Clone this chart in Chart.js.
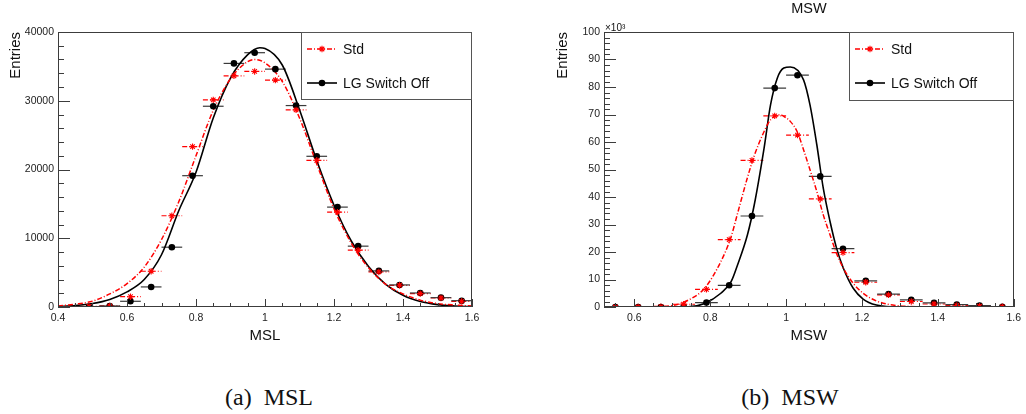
<!DOCTYPE html>
<html>
<head>
<meta charset="utf-8">
<script src="https://cdn.jsdelivr.net/npm/chart.js@4.4.1/dist/chart.umd.min.js"></script>
<style>
  html, body { margin: 0; padding: 0; background: #fff; }
  body { width: 1026px; height: 414px; position: relative; overflow: hidden; }
  .pane { position: absolute; top: 0; width: 513px; height: 360px; }
  .caption {
    position: absolute; top: 384px; line-height: 26px;
    font-family: "Liberation Serif", "DejaVu Serif", serif; font-size: 24px; color: #111;
    transform: translateX(-50%); white-space: pre;
  }
</style>
</head>
<body>
<div class="pane" style="left:0"><canvas id="msl"></canvas></div>
<div class="pane" style="left:513px"><canvas id="msw"></canvas></div>
<div class="caption" style="left:269px">(a)  MSL</div>
<div class="caption" style="left:790px">(b)  MSW</div>

<script>
// MSL histogram (bin width 0.06)
const mslBins = [0.49, 0.55, 0.61, 0.67, 0.73, 0.79, 0.85, 0.91, 0.97, 1.03, 1.09, 1.15, 1.21, 1.27, 1.33, 1.39, 1.45, 1.51, 1.57];
const mslStd = [80, 150, 1500, 5200, 13270, 23330, 30130, 33630, 34260, 33000, 28680, 21340, 13800, 8260, 5100, 3160, 1940, 1310, 830];
const mslOff = [30, 150, 830, 2920, 8700, 19100, 29200, 35430, 36990, 34600, 29300, 21920, 14530, 8850, 5250, 3210, 2040, 1360, 920];

// fitted curves for MSL
const mslStdFitX = [0.4, 0.45, 0.5, 0.55, 0.6, 0.65, 0.7, 0.75, 0.8, 0.85, 0.9, 0.95, 0.97, 1.0, 1.05, 1.1, 1.15, 1.2, 1.25, 1.3, 1.35, 1.4, 1.45, 1.5, 1.55, 1.6];
const mslStdFit = [150, 400, 850, 1900, 3400, 5800, 9800, 15300, 22000, 28600, 33200, 35700, 36000, 35500, 32800, 27500, 20800, 14300, 9300, 5700, 3300, 1900, 1000, 500, 280, 150];
const mslOffFitX = [0.4, 0.45, 0.5, 0.55, 0.6, 0.65, 0.7, 0.75, 0.8, 0.85, 0.9, 0.95, 0.985, 1.0, 1.05, 1.1, 1.15, 1.2, 1.25, 1.3, 1.35, 1.4, 1.45, 1.5, 1.55, 1.6];
const mslOffFit = [50, 200, 500, 1100, 2200, 4000, 7600, 14000, 19600, 27500, 33300, 36700, 37700, 37600, 35200, 28700, 21300, 14800, 9600, 5900, 3300, 1700, 800, 350, 150, 50];

// MSW histogram, in units of 10^3 entries
const mswBins = [0.55, 0.61, 0.67, 0.73, 0.79, 0.85, 0.91, 0.97, 1.03, 1.09, 1.15, 1.21, 1.27, 1.33, 1.39, 1.45, 1.51, 1.57];
const mswStd = [0, 0, 0.1, 1, 6.4, 24.5, 53.3, 69.5, 62.5, 39.3, 19.8, 9, 4.4, 2, 1.1, 0.6, 0.3, 0.1];
const mswOff = [0, 0, 0, 0.1, 1.6, 7.9, 33.1, 79.6, 84.3, 47.5, 21.2, 9.5, 4.7, 2.6, 1.5, 0.85, 0.5, 0.1];

// fitted curves for MSW
const mswStdFitX = [0.52, 0.611, 0.65, 0.698, 0.742, 0.785, 0.828, 0.855, 0.872, 0.898, 0.916, 0.942, 0.959, 0.985, 0.994, 1.011, 1.029, 1.046, 1.063, 1.081, 1.098, 1.116, 1.133, 1.151, 1.177, 1.203, 1.238, 1.281, 1.325, 1.4, 1.6];
const mswStdFit = [0, 0, 0.15, 0.5, 2.5, 6.8, 16.5, 25.5, 34, 47, 55, 63.8, 68.1, 69.9, 69.3, 67.5, 63.8, 57.2, 49.9, 42, 33.5, 26.2, 19.5, 14.1, 8.6, 5, 2.2, 0.7, 0.2, 0.05, 0];
const mswOffFitX = [0.52, 0.65, 0.7, 0.742, 0.785, 0.828, 0.855, 0.872, 0.898, 0.916, 0.942, 0.959, 0.977, 0.994, 1.011, 1.046, 1.063, 1.081, 1.098, 1.116, 1.133, 1.151, 1.177, 1.203, 1.238, 1.28, 1.35, 1.6];
const mswOffFit = [0, 0, 0.02, 0.1, 1.3, 5, 9.2, 15.3, 26.2, 37.1, 57.8, 73.5, 83.3, 86.9, 87.3, 82.6, 73.5, 59, 43.2, 31, 21.4, 14.1, 6.8, 2.9, 0.7, 0.1, 0, 0];

// axis labels
const mslXTicks = [0.4, 0.6, 0.8, 1, 1.2, 1.4, 1.6];
const mslYTicks = [0, 10000, 20000, 30000, 40000];
const mswXTicks = [0.6, 0.8, 1, 1.2, 1.4, 1.6];
const mswYTicks = [0, 10, 20, 30, 40, 50, 60, 70, 80, 90, 100];

const seriesNames = ['Std', 'LG Switch Off'];
const RED = '#ff0000';
const SANS = '"Liberation Sans", Arial, sans-serif';
const DASHDOT = [5, 2, 1, 2];

const pts = (xs, ys) => xs.map((x, i) => ({ x, y: ys[i] }));

function makeDatasets(bins, std, off, sx, sf, ox, of) {
  return [
    { label: seriesNames[0], data: pts(bins, std), pointStyle: 'star', pointRadius: 3.2, pointBorderWidth: 1.1,
      borderColor: RED, backgroundColor: RED, showLine: false, halfWidth: 0.03, barColor: RED, barDash: DASHDOT },
    { label: seriesNames[1], data: pts(bins, off), pointStyle: 'circle', pointRadius: 3.3, pointBorderWidth: 0,
      borderColor: '#000', backgroundColor: '#000', showLine: false, halfWidth: 0.03, barColor: '#3a3a3a' },
    { data: pts(sx, sf), showLine: true, pointRadius: 0, borderColor: RED, borderWidth: 1.5,
      borderDash: DASHDOT, cubicInterpolationMode: 'monotone' },
    { data: pts(ox, of), showLine: true, pointRadius: 0, borderColor: '#000', borderWidth: 1.6,
      cubicInterpolationMode: 'monotone' }
  ];
}

// ROOT-like frame: inner ticks, axis titles, legend box, horizontal error bars
const rootStyle = {
  id: 'rootStyle',
  beforeDatasetsDraw(chart) {
    const { ctx, chartArea: a, scales: { x, y } } = chart;
    ctx.save();
    ctx.beginPath();
    ctx.rect(a.left, a.top, a.width, a.height);
    ctx.clip();
    ctx.lineWidth = 1.2;
    chart.data.datasets.forEach(ds => {
      if (!ds.halfWidth) return;
      ctx.strokeStyle = ds.barColor;
      ctx.setLineDash(ds.barDash || []);
      ds.data.forEach(p => {
        const py = y.getPixelForValue(p.y);
        ctx.beginPath();
        ctx.moveTo(x.getPixelForValue(p.x - ds.halfWidth), py);
        ctx.lineTo(x.getPixelForValue(p.x + ds.halfWidth), py);
        ctx.stroke();
      });
    });
    ctx.restore();
  },
  afterDraw(chart, args, o) {
    const { ctx, chartArea: a, scales: { x, y } } = chart;
    ctx.save();
    ctx.strokeStyle = '#3c3c3c';
    ctx.lineWidth = 1;
    ctx.strokeRect(Math.round(a.left) + 0.5, Math.round(a.top) + 0.5,
                   Math.round(a.width) - 1, Math.round(a.height) - 1);

    // ticks drawn inward from the left and bottom axes
    const tick = (scale, step, len, vertical) => {
      const n0 = Math.ceil(scale.min / step - 1e-6), n1 = Math.floor(scale.max / step + 1e-6);
      for (let n = n0; n <= n1; n++) {
        const p = Math.round(scale.getPixelForValue(n * step)) + 0.5;
        ctx.beginPath();
        if (vertical) { ctx.moveTo(a.left, p); ctx.lineTo(a.left + len, p); }
        else { ctx.moveTo(p, a.bottom); ctx.lineTo(p, a.bottom - len); }
        ctx.stroke();
      }
    };
    tick(y, o.yMinor, 6, true);
    tick(y, o.yMajor, 12, true);
    tick(x, 0.05, 4, false);
    tick(x, 0.2, 8, false);

    ctx.fillStyle = '#111';
    ctx.font = '15px ' + SANS;
    ctx.textAlign = 'center';
    ctx.textBaseline = 'middle';
    ctx.fillText(o.xTitle, (a.left + a.right) / 2, a.bottom + 29);

    ctx.save();
    ctx.translate(o.yTitleX, a.top);
    ctx.rotate(-Math.PI / 2);
    ctx.textAlign = 'right';
    ctx.fillText('Entries', 0, 0);
    ctx.restore();

    if (o.title) {
      ctx.font = '14.5px ' + SANS;
      ctx.fillText(o.title, (a.left + a.right) / 2, 9);
    }
    if (o.exponent) {
      ctx.font = '10px ' + SANS;
      ctx.textAlign = 'left';
      ctx.textBaseline = 'alphabetic';
      ctx.fillText(o.exponent, a.left + 1, a.top - 1);
    }

    // legend
    const lx = o.legendLeft, ly = a.top, lw = a.right - o.legendLeft, lh = o.legendHeight;
    ctx.fillStyle = '#fff';
    ctx.fillRect(lx, ly, lw, lh);
    ctx.strokeStyle = '#555';
    ctx.strokeRect(Math.round(lx) + 0.5, Math.round(ly) + 0.5, Math.round(lw) - 1, Math.round(lh) - 1);
    const ds = chart.data.datasets;
    [[ds[0], ds[2], 17], [ds[1], ds[3], 51]].forEach(([pt, line, dy]) => {
      const yy = ly + dy;
      ctx.strokeStyle = line.borderColor;
      ctx.lineWidth = line.borderWidth;
      ctx.setLineDash(line.borderDash || []);
      ctx.beginPath();
      ctx.moveTo(lx + 6, yy);
      ctx.lineTo(lx + 36, yy);
      ctx.stroke();
      ctx.setLineDash([]);
      ctx.fillStyle = pt.backgroundColor;
      ctx.strokeStyle = pt.borderColor;
      ctx.lineWidth = pt.pointBorderWidth;
      Chart.helpers.drawPoint(ctx, { pointStyle: pt.pointStyle, radius: pt.pointRadius, borderWidth: pt.pointBorderWidth, rotation: 0 }, lx + 21, yy);
      ctx.fillStyle = '#111';
      ctx.font = '14px ' + SANS;
      ctx.textAlign = 'left';
      ctx.textBaseline = 'middle';
      ctx.fillText(pt.label, lx + 42, yy + 1);
    });
    ctx.restore();
  }
};

const fmt = v => String(+v.toFixed(2));

function makeChart(id, cfg) {
  return new Chart(document.getElementById(id), {
    type: 'scatter',
    data: { datasets: cfg.datasets },
    plugins: [rootStyle],
    options: {
      responsive: true,
      maintainAspectRatio: false,
      animation: false,
      layout: { autoPadding: false, padding: { top: 32, right: cfg.rightPad, left: 0, bottom: 0 } },
      plugins: {
        legend: { display: false },
        tooltip: { enabled: false },
        rootStyle: cfg.style
      },
      scales: {
        x: {
          type: 'linear', min: cfg.xMin, max: 1.6,
          grid: { display: false, drawTicks: false }, border: { display: false },
          afterBuildTicks: s => { s.ticks = cfg.xTicks.map(v => ({ value: v })); },
          afterFit: s => { s.height = 53; },
          ticks: { padding: 5, color: '#222', font: { family: SANS, size: 10.5 }, maxRotation: 0, autoSkip: false, callback: fmt }
        },
        y: {
          min: 0, max: cfg.yMax,
          grid: { display: false, drawTicks: false }, border: { display: false },
          afterBuildTicks: s => { s.ticks = cfg.yTicks.map(v => ({ value: v })); },
          afterFit: s => { s.width = cfg.yWidth; },
          ticks: { padding: 4, color: '#222', font: { family: SANS, size: 10.5 }, autoSkip: false, callback: fmt }
        }
      }
    }
  });
}

makeChart('msl', {
  datasets: makeDatasets(mslBins, mslStd, mslOff, mslStdFitX, mslStdFit, mslOffFitX, mslOffFit),
  xMin: 0.4, yMax: 40000, xTicks: mslXTicks, yTicks: mslYTicks, yWidth: 58, rightPad: 41,
  style: { yMajor: 10000, yMinor: 2000, xTitle: 'MSL', yTitleX: 16, legendLeft: 301, legendHeight: 68 }
});

makeChart('msw', {
  datasets: makeDatasets(mswBins, mswStd, mswOff, mswStdFitX, mswStdFit, mswOffFitX, mswOffFit),
  xMin: 0.52, yMax: 100, xTicks: mswXTicks, yTicks: mswYTicks, yWidth: 91, rightPad: 6,
  style: { yMajor: 10, yMinor: 2, xTitle: 'MSW', yTitleX: 50, legendLeft: 336, legendHeight: 69,
           title: 'MSW', exponent: '\u00d710\u00b3' }
});
</script>
</body>
</html>
